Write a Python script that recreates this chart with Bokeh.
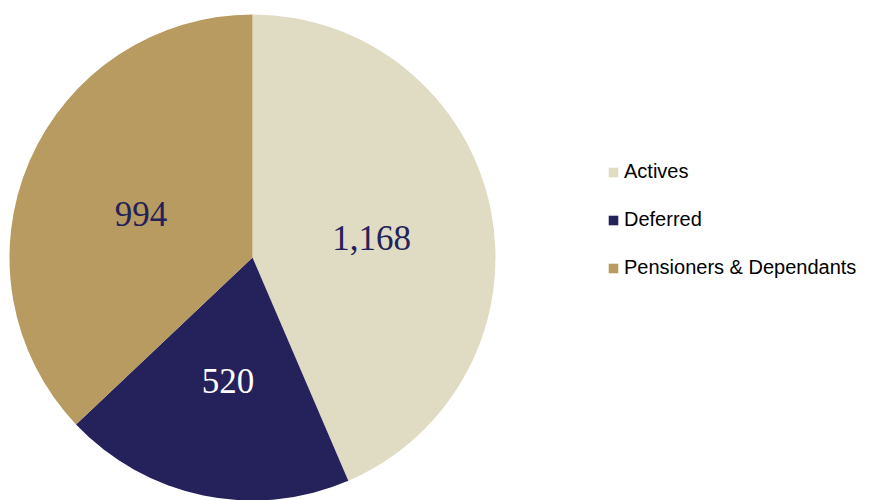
import numpy as np
from bokeh.plotting import figure
from bokeh.models import ColumnDataSource, Range1d, Legend, LegendItem
from bokeh.core.properties import value
from bokeh.embed import file_html
from bokeh.resources import INLINE

# ---- data ----
categories = ["Actives", "Deferred", "Pensioners & Dependants"]
counts = [1168, 520, 994]
count_labels = ["1,168", "520", "994"]

# ---- style ----
colors = ["#E0DCC4", "#25215A", "#B89B60"]
label_colors = ["#25215A", "#FFFFFF", "#25215A"]

W, H = 872, 500
cx, cy, r = 252, 243, 243

vals = np.array(counts, dtype=float)
frac = vals / vals.sum()
cum = np.concatenate([[0.0], np.cumsum(frac)])
start = np.pi / 2 - 2 * np.pi * cum[:-1]
end = np.pi / 2 - 2 * np.pi * cum[1:]
mid = (start + end) / 2
lx = cx + 0.5 * r * np.cos(mid)
ly = cy + 0.5 * r * np.sin(mid)

src = ColumnDataSource(dict(
    cat=categories, start=start, end=end, color=colors,
    lx=lx, ly=ly, lab=count_labels, lcol=label_colors,
))

p = figure(width=W, height=H, output_backend="svg", toolbar_location=None,
           x_range=Range1d(0, W), y_range=Range1d(0, H),
           min_border=0, outline_line_color=None)
p.axis.visible = False
p.grid.visible = False
p.background_fill_color = "white"

renderers = []
for i in range(len(categories)):
    rr = p.wedge(x=cx, y=cy, radius=r, start_angle=start[i], end_angle=end[i],
                 direction="clock", fill_color=colors[i], line_color=None)
    renderers.append(rr)

p.text(x="lx", y="ly", text="lab", source=src, text_color="lcol",
       text_align="center", text_baseline="middle", y_offset=5,
       text_font=value("Liberation Serif"), text_font_size="35px")

legend = Legend(items=[LegendItem(label=categories[i], renderers=[renderers[i]])
                       for i in range(len(categories))],
                location=(607, 221), padding=0, margin=0, spacing=25,
                glyph_width=12, glyph_height=12, label_standoff=5,
                label_text_font="Liberation Sans", label_text_font_size="20px",
                label_text_color="#000000", label_height=22,
                border_line_color=None, background_fill_alpha=0)
p.add_layout(legend)

open("out.html", "w").write(file_html(p, INLINE))
